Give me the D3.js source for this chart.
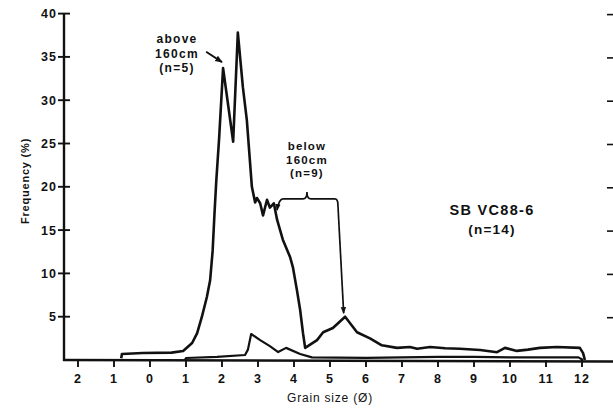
<!DOCTYPE html>
<html>
<head>
<meta charset="utf-8">
<script src="https://cdn.jsdelivr.net/npm/d3@7/dist/d3.min.js"></script>
<style>
  html, body { margin: 0; padding: 0; background: #fff; }
  svg { display: block; }
  text { font-family: "Liberation Sans", Arial, Helvetica, sans-serif; fill: #111; }
</style>
</head>
<body>
<svg id="chart" width="613" height="411"></svg>
<script>
// Grain-size frequency curves, core SB VC88-6
// Upper curve: grain size (phi) vs frequency (%)
const upperPhi  = [-0.8, -0.78, -0.2, 0.6, 0.92, 1.17, 1.31, 1.44, 1.58, 1.67, 1.74, 1.79, 1.84, 1.92, 2.03, 2.31, 2.44, 2.58, 2.69, 2.83, 2.92, 2.97, 3.06, 3.14, 3.25, 3.33, 3.44, 3.53, 3.69, 3.89, 3.97, 4.08, 4.17, 4.25, 4.31, 4.64, 4.81, 5.08, 5.42, 5.75, 6.11, 6.44, 6.86, 7.22, 7.42, 7.78, 8.2, 8.61, 9.17, 9.64, 9.86, 10.19, 10.5, 10.83, 11.3, 11.94, 12.03, 12.08];
const upperFreq = [0.2, 0.7, 0.8, 0.85, 1.04, 1.96, 3.1, 4.97, 7.27, 9.2, 12.6, 16.8, 20.6, 25.6, 33.7, 25.2, 37.8, 31.5, 27.7, 20.0, 18.2, 18.7, 18.1, 16.7, 18.5, 17.6, 18.1, 16.2, 13.9, 11.9, 10.7, 8.1, 5.8, 3.1, 1.4, 2.3, 3.2, 3.7, 5.0, 3.2, 2.5, 1.7, 1.4, 1.5, 1.3, 1.5, 1.35, 1.3, 1.15, 0.9, 1.4, 1.05, 1.2, 1.4, 1.5, 1.4, 0.8, 0];

// Lower curve
const lowerPhi  = [0.97, 1.0, 1.86, 2.64, 2.72, 2.81, 3.06, 3.33, 3.56, 3.78, 4.17, 4.5, 6.0, 7.0, 8.0, 9.0, 10.0, 11.0, 11.9, 12.03];
const lowerFreq = [0.0, 0.23, 0.35, 0.58, 1.2, 3.0, 2.3, 1.6, 0.92, 1.4, 0.7, 0.3, 0.25, 0.3, 0.35, 0.35, 0.3, 0.3, 0.3, 0];

// Axis ticks
const xTickValues = [-2, -1, 0, 1, 2, 3, 4, 5, 6, 7, 8, 9, 10, 11, 12];
const xTickLabels = ["2", "1", "0", "1", "2", "3", "4", "5", "6", "7", "8", "9", "10", "11", "12"];
const yTickValues = [5, 10, 15, 20, 25, 30, 35, 40];

const svg = d3.select("#chart");
const x = d3.scaleLinear().domain([-2, 12]).range([78, 582]);
const y = d3.scaleLinear().domain([0, 40]).range([360, 13.6]);
const axisX = 64;
const ink = "#111";

// Axis lines
svg.append("line").attr("x1", axisX).attr("x2", axisX).attr("y1", y(40)).attr("y2", y(0) + 1)
  .attr("stroke", ink).attr("stroke-width", 2.4);
svg.append("line").attr("x1", axisX - 1).attr("x2", 613).attr("y1", y(0)).attr("y2", y(0) + 1.5)
  .attr("stroke", ink).attr("stroke-width", 2.4);

// Y ticks and labels
const yt = svg.append("g");
yt.selectAll("line.l").data(yTickValues).join("line").attr("class", "l")
  .attr("x1", axisX - 6).attr("x2", axisX + 6).attr("y1", d => y(d)).attr("y2", d => y(d))
  .attr("stroke", ink).attr("stroke-width", 1.9);
yt.selectAll("line.r").data(yTickValues).join("line").attr("class", "r")
  .attr("x1", 607).attr("x2", 613).attr("y1", d => y(d) + 1).attr("y2", d => y(d) + 1)
  .attr("stroke", ink).attr("stroke-width", 1.6);
yt.selectAll("text").data(yTickValues).join("text")
  .attr("x", axisX - 7).attr("y", d => y(d)).attr("dy", "0.36em")
  .attr("text-anchor", "end").attr("font-size", 12.5).attr("font-weight", "bold").attr("letter-spacing", 1)
  .text(d => d);

// X ticks and labels
const xt = svg.append("g");
xt.selectAll("line").data(xTickValues).join("line")
  .attr("x1", d => x(d)).attr("x2", d => x(d)).attr("y1", y(0)).attr("y2", y(0) + 7)
  .attr("stroke", ink).attr("stroke-width", 1.9);
xt.selectAll("text").data(xTickValues).join("text")
  .attr("x", d => x(d)).attr("y", 383)
  .attr("text-anchor", "middle").attr("font-size", 12.5).attr("font-weight", "bold").attr("letter-spacing", 1)
  .text((d, i) => xTickLabels[i]);

// Axis titles
svg.append("text").attr("x", 330).attr("y", 402).attr("text-anchor", "middle")
  .attr("font-size", 12).attr("letter-spacing", 0.8).text("Grain size (Ø)");
svg.append("text").attr("transform", "translate(29,181) rotate(-90)").attr("text-anchor", "middle")
  .attr("font-size", 11).attr("font-weight", "bold").attr("letter-spacing", 0.8).text("Frequency (%)");

// Curves
const line = d3.line().x(d => x(d[0])).y(d => y(d[1]));
svg.append("path").datum(lowerPhi.map((p, i) => [p, lowerFreq[i]]))
  .attr("d", line).attr("fill", "none").attr("stroke", ink).attr("stroke-width", 2.2)
  .attr("stroke-linejoin", "round");
svg.append("path").datum(upperPhi.map((p, i) => [p, upperFreq[i]]))
  .attr("d", line).attr("fill", "none").attr("stroke", ink).attr("stroke-width", 2.6)
  .attr("stroke-linejoin", "round");

// Arrowhead marker
svg.append("defs").append("marker").attr("id", "arrow")
  .attr("viewBox", "0 0 10 10").attr("refX", 9).attr("refY", 5)
  .attr("markerWidth", 4).attr("markerHeight", 4).attr("orient", "auto")
  .append("path").attr("d", "M0,1 L10,5 L0,9 Z").attr("fill", ink);

// "above 160cm" annotation
const above = svg.append("text").attr("text-anchor", "middle").attr("font-size", 12)
  .attr("font-weight", "bold").attr("letter-spacing", 1.3);
["above", "160cm", "(n=5)"].forEach((t, i) =>
  above.append("tspan").attr("x", x(0.75)).attr("y", y(36.6) + i * 14.5).text(t));
svg.append("path").attr("d", `M${x(1.56)},${y(35.6)} L${x(2.0)},${y(34.4)}`)
  .attr("stroke", ink).attr("stroke-width", 1.9).attr("fill", "none").attr("marker-end", "url(#arrow)");

// "below 160cm" annotation with bracket
const below = svg.append("text").attr("text-anchor", "middle").attr("font-size", 11.5)
  .attr("font-weight", "bold").attr("letter-spacing", 1.2);
["below", "160cm", "(n=9)"].forEach((t, i) =>
  below.append("tspan").attr("x", x(4.36)).attr("y", y(24.2) + i * 13.5).text(t));
const by = y(18.6), tipX = x(4.36);
svg.append("path")
  .attr("d", `M${x(3.64) + 2},${by} L${tipX - 4},${by} Q${tipX},${by} ${tipX},${y(19.4)} Q${tipX},${by} ${tipX + 4},${by} L${x(5.22) - 3},${by} Q${x(5.22)},${by} ${x(5.22)},${by + 6}`)
  .attr("stroke", ink).attr("stroke-width", 1.7).attr("fill", "none");
svg.append("path")
  .attr("d", `M${x(3.64) + 2},${by} Q${x(3.58)},${by} ${x(3.53)},${y(17.3)}`)
  .attr("stroke", ink).attr("stroke-width", 1.7).attr("fill", "none").attr("marker-end", "url(#arrow)");
svg.append("path")
  .attr("d", `M${x(5.22)},${by + 6} L${x(5.38)},${y(5.4)}`)
  .attr("stroke", ink).attr("stroke-width", 1.7).attr("fill", "none").attr("marker-end", "url(#arrow)");

// Core label
const core = svg.append("text").attr("text-anchor", "middle").attr("font-weight", "bold");
core.append("tspan").attr("x", x(9.5)).attr("y", y(16.7)).attr("font-size", 14.5).attr("letter-spacing", 1.3).text("SB VC88-6");
core.append("tspan").attr("x", x(9.5)).attr("y", y(14.6)).attr("font-size", 13.5).attr("letter-spacing", 1.2).text("(n=14)");
</script>
</body>
</html>
